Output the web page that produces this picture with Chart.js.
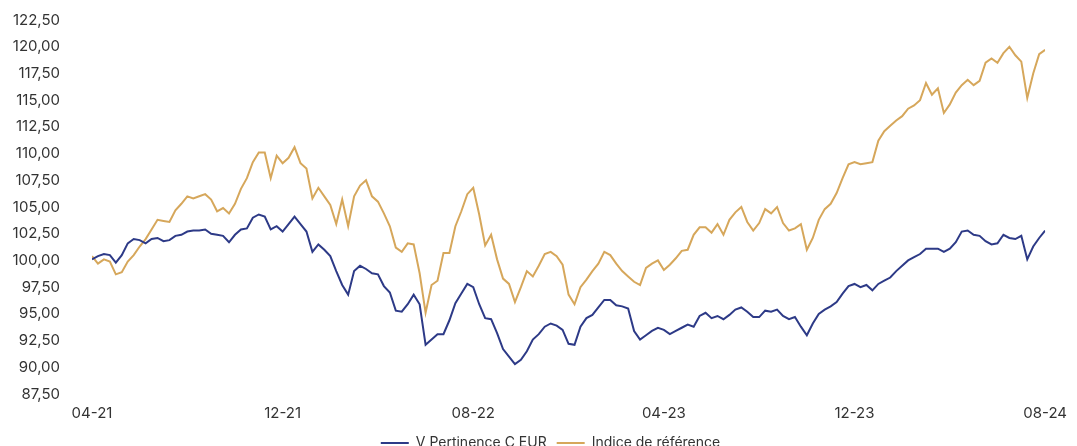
<!DOCTYPE html>
<html>
<head>
<meta charset="utf-8">
<script src="https://cdn.jsdelivr.net/npm/chart.js@4.4.1/dist/chart.umd.min.js"></script>
<style>
    html, body { margin: 0; padding: 0; background: #fff; }
</style>
</head>
<body>
<canvas id="chart" width="1077" height="446"></canvas>
<script>
// one point every quarter of a month, 04-21 -> 08-24
var tickLabels = ['04-21', '12-21', '08-22', '04-23', '12-23', '08-24'];

var fund = [
    100.1, 100.4, 100.6, 100.5, 99.8, 100.5, 101.6, 102.0, 101.9, 101.6,
    102.0, 102.1, 101.8, 101.9, 102.3, 102.4, 102.7, 102.8, 102.8, 102.9,
    102.5, 102.4, 102.3, 101.7, 102.4, 102.9, 103.0, 104.0, 104.3, 104.1,
    102.9, 103.2, 102.7, 103.4, 104.1, 103.4, 102.7, 100.8, 101.5, 101.0,
    100.4, 99.0, 97.7, 96.8, 99.0, 99.5, 99.2, 98.8, 98.7, 97.6,
    97.0, 95.3, 95.2, 95.9, 96.8, 95.9, 92.1, 92.6, 93.1, 93.1,
    94.4, 96.0, 96.9, 97.8, 97.5, 95.9, 94.6, 94.5, 93.2, 91.7,
    91.0, 90.3, 90.7, 91.5, 92.6, 93.1, 93.8, 94.1, 93.9, 93.5,
    92.2, 92.1, 93.8, 94.6, 94.9, 95.6, 96.3, 96.3, 95.8, 95.7,
    95.5, 93.4, 92.6, 93.0, 93.4, 93.7, 93.5, 93.1, 93.4, 93.7,
    94.0, 93.8, 94.8, 95.1, 94.6, 94.8, 94.5, 94.9, 95.4, 95.6,
    95.2, 94.7, 94.7, 95.3, 95.2, 95.4, 94.8, 94.5, 94.7, 93.8,
    93.0, 94.1, 95.0, 95.4, 95.7, 96.1, 96.9, 97.6, 97.8, 97.5,
    97.7, 97.2, 97.8, 98.1, 98.4, 99.0, 99.5, 100.0, 100.3, 100.6,
    101.1, 101.1, 101.1, 100.8, 101.1, 101.7, 102.7, 102.8, 102.4, 102.3,
    101.8, 101.5, 101.6, 102.4, 102.1, 102.0, 102.3, 100.1, 101.3, 102.1,
    102.8
];

var benchmark = [
    100.4, 99.7, 100.1, 99.9, 98.7, 98.9, 99.9, 100.5, 101.3, 102.0,
    102.9, 103.8, 103.7, 103.6, 104.7, 105.3, 106.0, 105.8, 106.0, 106.2,
    105.7, 104.6, 104.9, 104.4, 105.3, 106.7, 107.7, 109.2, 110.1, 110.1,
    107.7, 109.8, 109.1, 109.6, 110.6, 109.1, 108.6, 105.8, 106.8, 106.0,
    105.2, 103.4, 105.7, 103.2, 106.0, 107.0, 107.5, 106.0, 105.5, 104.4,
    103.2, 101.2, 100.8, 101.6, 101.5, 98.8, 95.1, 97.7, 98.1, 100.7,
    100.7, 103.2, 104.6, 106.2, 106.8, 104.3, 101.4, 102.4, 100.1, 98.3,
    97.8, 96.1, 97.5, 99.0, 98.5, 99.5, 100.6, 100.8, 100.4, 99.6,
    96.8, 95.9, 97.5, 98.2, 99.0, 99.7, 100.8, 100.5, 99.7, 99.0,
    98.5, 98.0, 97.7, 99.3, 99.7, 100.0, 99.1, 99.6, 100.2, 100.9,
    101.0, 102.4, 103.1, 103.1, 102.6, 103.4, 102.4, 103.8, 104.5, 105.0,
    103.6, 102.8, 103.5, 104.8, 104.4, 105.0, 103.5, 102.8, 103.0, 103.4,
    101.0, 102.1, 103.8, 104.8, 105.3, 106.3, 107.7, 109.0, 109.2, 109.0,
    109.1, 109.2, 111.2, 112.1, 112.6, 113.1, 113.5, 114.2, 114.5, 115.0,
    116.6, 115.5, 116.1, 113.8, 114.6, 115.7, 116.4, 116.9, 116.4, 116.8,
    118.5, 118.9, 118.5, 119.4, 120.0, 119.2, 118.6, 115.2, 117.5, 119.3,
    119.7
];

var steps = fund.map(function (v, i) { return i; });
var stepsPerLabel = (steps.length - 1) / (tickLabels.length - 1);

// legend sits a little right of the canvas centre in the original
var legendShift = {
    id: 'legendShift',
    afterLayout: function (chart) {
        chart.legend.left += 23;
        chart.legend.right += 23;
    }
};

var ctx = document.getElementById('chart');
new Chart(ctx, {
    type: 'line',
    data: {
        labels: steps,
        datasets: [{
            label: 'V Pertinence C EUR',
            data: fund,
            borderColor: '#2d3a87',
            backgroundColor: '#2d3a87',
            borderWidth: 2,
            pointRadius: 0
        }, {
            label: 'Indice de référence',
            data: benchmark,
            borderColor: '#d6a75b',
            backgroundColor: '#d6a75b',
            borderWidth: 2,
            pointRadius: 0
        }]
    },
    options: {
        responsive: false,
        animation: false,
        layout: {
            padding: { top: 20, right: 22, left: 0, bottom: -14 }
        },
        scales: {
            x: {
                type: 'linear',
                min: 0,
                max: steps.length - 1,
                grid: { display: false, drawTicks: false },
                border: { display: false },
                afterFit: function (scale) { scale.height = 32; },
                ticks: {
                    stepSize: stepsPerLabel,
                    padding: 10,
                    color: '#333',
                    font: { family: 'Inter', size: 15 },
                    maxRotation: 0,
                    callback: function (value) {
                        return tickLabels[Math.round(value / stepsPerLabel)];
                    }
                }
            },
            y: {
                min: 87.5,
                max: 122.5,
                grid: { display: false, drawTicks: false },
                border: { display: false },
                afterFit: function (scale) {
                    scale.width = 92;
                    scale.paddingTop = 0;
                    scale.paddingBottom = 0;
                },
                ticks: {
                    stepSize: 2.5,
                    padding: 32,
                    color: '#333',
                    font: { family: 'Inter', size: 15 },
                    callback: function (value) {
                        return value.toFixed(2).replace('.', ',');
                    }
                }
            }
        },
        plugins: {
            legend: {
                position: 'bottom',
                labels: {
                    boxWidth: 28,
                    boxHeight: 2,
                    color: '#333',
                    font: { family: 'Inter', size: 14 },
                    generateLabels: function (chart) {
                        var items = Chart.defaults.plugins.legend.labels.generateLabels(chart);
                        items.forEach(function (item) { item.lineWidth = 0; });
                        return items;
                    }
                }
            },
            tooltip: { enabled: false }
        }
    },
    plugins: [legendShift]
});
</script>
</body>
</html>
